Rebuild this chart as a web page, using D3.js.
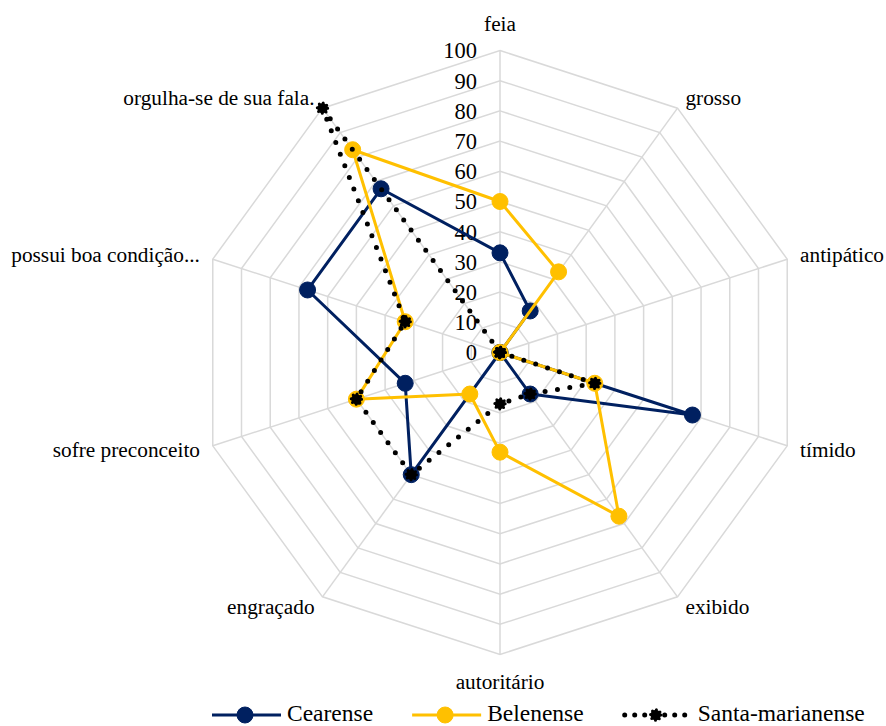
<!DOCTYPE html>
<html>
<head>
<meta charset="utf-8">
<script src="https://cdn.jsdelivr.net/npm/d3@7"></script>
<style>
  html, body { margin: 0; padding: 0; background: #fff; }
  svg { display: block; }
  svg text { font-family: "Liberation Serif", "DejaVu Serif", serif; fill: #000; }
</style>
</head>
<body>
<svg id="chart" width="886" height="726"></svg>
<script>
// Radar chart categories (clockwise from the top)
const categories = [
  "feia", "grosso", "antipático", "tímido", "exibido",
  "autoritário", "engraçado", "sofre preconceito",
  "possui boa condição...", "orgulha-se de sua fala."
];

// Percentages per group
const cearense        = [33, 17, 0, 67, 17, 0, 50, 33, 67, 67];
const belenense       = [50, 33, 0, 33, 67, 33, 17, 50, 33, 83];
const santaMarianense = [0, 0, 0, 33, 17, 17, 50, 50, 33, 100];

const seriesNames = ["Cearense", "Belenense", "Santa-marianense"];
const tickValues = [0, 10, 20, 30, 40, 50, 60, 70, 80, 90, 100];

const series = [
  { name: seriesNames[0], values: cearense,        color: "#002060", dotted: false },
  { name: seriesNames[1], values: belenense,       color: "#FFC000", dotted: false },
  { name: seriesNames[2], values: santaMarianense, color: "#000000", dotted: true }
];

const svg = d3.select("#chart");
const cx = 500, cy = 352.5, R = 302;
const n = categories.length;
const angle = i => i * 2 * Math.PI / n;

const r = d3.scaleLinear().domain([0, 100]).range([0, R]);

const g = svg.append("g").attr("transform", `translate(${cx},${cy})`);

const radial = d3.lineRadial()
  .angle((d, i) => angle(i))
  .radius(d => r(d))
  .curve(d3.curveLinearClosed);

// Grid: decagon rings and spokes
const gridG = g.append("g");
tickValues.filter(t => t > 0).forEach(t => {
  gridG.append("path")
    .attr("d", radial(categories.map(() => t)))
    .attr("fill", "none")
    .attr("stroke", "#d9d9d9")
    .attr("stroke-width", 1.5);
});
categories.forEach((c, i) => {
  const a = angle(i);
  gridG.append("line")
    .attr("x1", 0).attr("y1", 0)
    .attr("x2", r(100) * Math.sin(a))
    .attr("y2", -r(100) * Math.cos(a))
    .attr("stroke", "#d9d9d9")
    .attr("stroke-width", 1.5);
});

// Value axis labels along the first spoke
g.append("g").selectAll("text")
  .data(tickValues)
  .join("text")
  .attr("x", -23)
  .attr("y", d => -r(d))
  .attr("dy", "0.35em")
  .attr("text-anchor", "end")
  .style("font-size", "22.5px")
  .text(d => d);

// Category labels outside the outer ring
g.append("g").selectAll("text")
  .data(categories)
  .join("text")
  .each(function(d, i) {
    const a = angle(i);
    const s = Math.sin(a), c = Math.cos(a);
    const vx = r(100) * s, vy = -r(100) * c;
    const vertical = Math.abs(s) < 0.1;
    const x = vx + s * 13.5;
    const y = vy - c * (vertical ? 27 : 13);
    d3.select(this)
      .attr("x", x)
      .attr("y", y)
      .attr("dy", "0.33em")
      .attr("text-anchor", vertical ? "middle" : (s > 0 ? "start" : "end"))
      .style("font-size", "21.3px")
      .text(d);
  });

// Marker drawing helper
function drawMarker(sel, s, x, y) {
  if (s.dotted) {
    sel.append("circle")
      .attr("cx", x).attr("cy", y).attr("r", 5.2)
      .attr("fill", "#000")
      .attr("stroke", "#000")
      .attr("stroke-width", 3)
      .attr("stroke-linecap", "round")
      .attr("stroke-dasharray", "0 4.1");
  } else {
    sel.append("circle")
      .attr("cx", x).attr("cy", y).attr("r", 8)
      .attr("fill", s.color)
      .attr("stroke", s.color)
      .attr("stroke-width", 1);
  }
}

// Series lines and markers
series.forEach(s => {
  const sg = g.append("g");
  const path = sg.append("path")
    .attr("d", radial(s.values))
    .attr("fill", "none")
    .attr("stroke", s.color)
    .attr("stroke-linejoin", "round");
  if (s.dotted) {
    path.attr("stroke-width", 5)
      .attr("stroke-linecap", "round")
      .attr("stroke-dasharray", "0 12.5");
  } else {
    path.attr("stroke-width", 3);
  }
  s.values.forEach((v, i) => {
    const a = angle(i);
    drawMarker(sg, s, r(v) * Math.sin(a), -r(v) * Math.cos(a));
  });
});

// Legend
const legend = svg.append("g").attr("transform", "translate(212,715)");
let lx = 0;
series.forEach(s => {
  const item = legend.append("g").attr("transform", `translate(${lx},0)`);
  const ln = item.append("line")
    .attr("x1", 0).attr("x2", 69).attr("y1", 0).attr("y2", 0)
    .attr("stroke", s.color);
  if (s.dotted) {
    ln.attr("x1", 2).attr("x2", 67)
      .attr("stroke-width", 5)
      .attr("stroke-linecap", "round")
      .attr("stroke-dasharray", "0 10");
  } else {
    ln.attr("stroke-width", 3);
  }
  drawMarker(item, s, 33, 0);
  const t = item.append("text")
    .attr("x", 75)
    .attr("y", 0)
    .attr("dy", "0.27em")
    .style("font-size", "23.5px")
    .text(s.name);
  lx += 75 + t.node().getComputedTextLength() + 39;
});
</script>
</body>
</html>
